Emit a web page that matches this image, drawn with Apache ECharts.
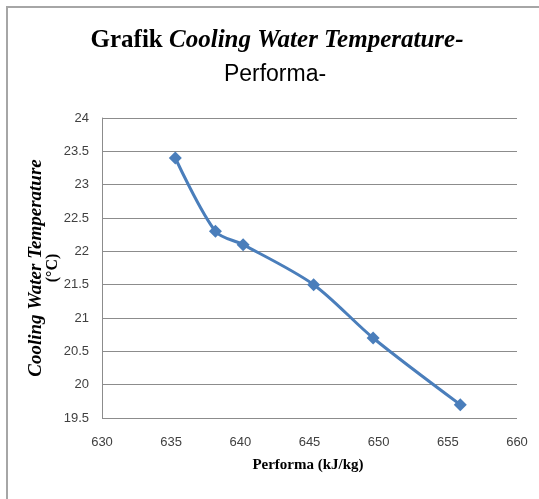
<!DOCTYPE html>
<html lang="en">
<head>
    <meta charset="UTF-8">
    <title>Grafik Cooling Water Temperature</title>
    <script src="https://cdn.jsdelivr.net/npm/echarts@6/dist/echarts.min.js"></script>
    <style>
        html, body { margin: 0; padding: 0; background: #fff; }
        #chart { width: 539px; height: 499px; }
    </style>
</head>
<body>
<div id="chart"></div>
<script>
    // data
    var performa = [635.3, 638.2, 640.2, 645.3, 649.6, 655.9];
    var temperature = [23.4, 22.3, 22.1, 21.5, 20.7, 19.7];
    var xTicks = [630, 660, 5];
    var yTicks = [19.5, 24, 0.5];

    var points = performa.map(function (x, i) { return [x, temperature[i]]; });
    var labelFont = "'Liberation Sans Narrow', 'Liberation Sans', sans-serif";
    var serif = "'Liberation Serif', 'DejaVu Serif', serif";

    var myChart = echarts.init(document.getElementById('chart'));
    var option = {
        animation: false,
        backgroundColor: '#fff',
        grid: { left: 102, top: 118, right: 22, bottom: 81 },
        xAxis: {
            type: 'value',
            min: xTicks[0], max: xTicks[1], interval: xTicks[2],
            axisLine: { show: false },
            axisTick: { show: false },
            splitLine: { show: false },
            axisLabel: { color: '#404040', fontSize: 13, fontFamily: labelFont, margin: 18 }
        },
        yAxis: {
            type: 'value',
            min: yTicks[0], max: yTicks[1], interval: yTicks[2],
            axisLine: { show: true, lineStyle: { color: '#8c8c8c', width: 1 } },
            axisTick: { show: false },
            splitLine: { show: true, lineStyle: { color: '#8c8c8c', width: 1 } },
            axisLabel: { color: '#404040', fontSize: 13, fontFamily: labelFont, margin: 13 }
        },
        graphic: [
            { type: 'rect', shape: { x: 7, y: 7, width: 700, height: 700 },
              style: { fill: 'none', stroke: '#a6a6a6', lineWidth: 2 } },
            { type: 'text', x: 277, y: 28,
              style: { rich: {
                  a: { fontFamily: serif, fontWeight: 'bold', fontSize: 25, fill: '#000' },
                  b: { fontFamily: serif, fontWeight: 'bold', fontStyle: 'italic', fontSize: 25, fill: '#000' }
              }, text: '{a|Grafik }{b|Cooling Water Temperature-}', align: 'center' } },
            { type: 'text', x: 275, y: 63,
              style: { text: 'Performa-', fontFamily: labelFont, fontSize: 23, fill: '#000', align: 'center' } },
            { type: 'text', x: 36, y: 268, rotation: Math.PI / 2,
              style: { text: 'Cooling Water Temperature', fontFamily: serif, fontWeight: 'bold',
                       fontStyle: 'italic', fontSize: 19, fill: '#000', align: 'center', verticalAlign: 'middle' } },
            { type: 'text', x: 53, y: 268, rotation: Math.PI / 2,
              style: { text: '(°C)', fontFamily: serif, fontWeight: 'bold', fontSize: 16, fill: '#000', align: 'center', verticalAlign: 'middle' } },
            { type: 'text', x: 308, y: 458,
              style: { text: 'Performa (kJ/kg)', fontFamily: serif, fontWeight: 'bold', fontSize: 15, fill: '#000', align: 'center' } }
        ],
        series: [
            {
                type: 'line',
                data: points,
                smooth: 0.3,
                symbol: 'diamond',
                symbolSize: 13,
                lineStyle: { color: '#4a7ebb', width: 3 },
                itemStyle: { color: '#4a7ebb' }
            }
        ]
    };
    myChart.setOption(option);
</script>
</body>
</html>
